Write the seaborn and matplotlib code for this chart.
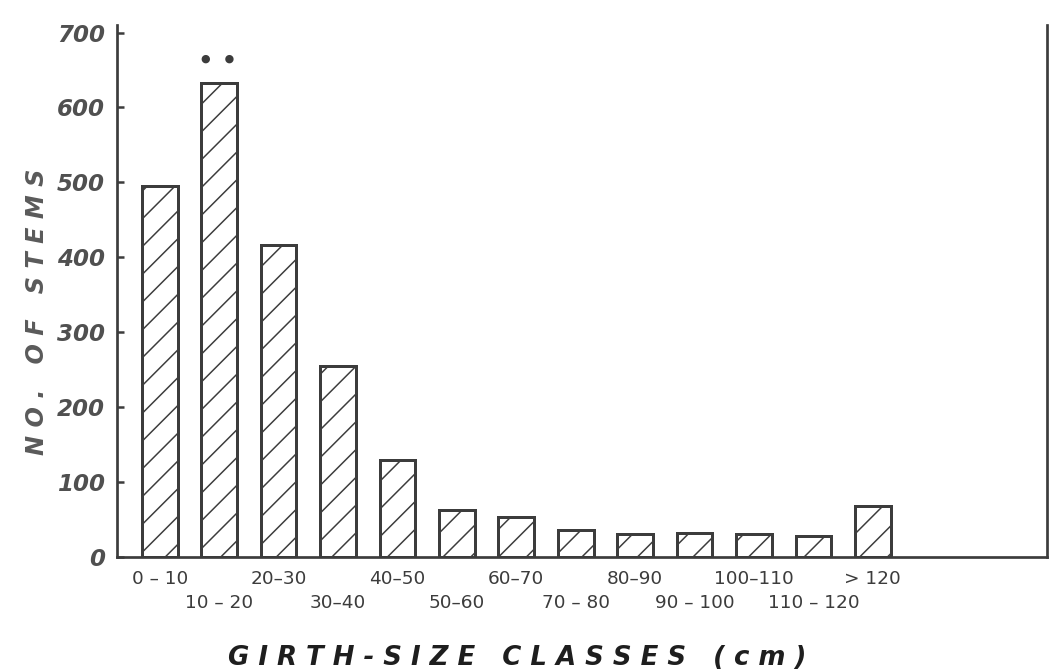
import seaborn as sns
import matplotlib.pyplot as plt

# girth-size classes and number of stems
classes = ["0 \u2013 10", "10 \u2013 20", "20\u201330", "30\u201340", "40\u201350", "50\u201360",
           "60\u201370", "70 \u2013 80", "80\u201390", "90 \u2013 100", "100\u2013110",
           "110 \u2013 120", "> 120"]
stems = [495, 632, 416, 255, 130, 63, 53, 36, 31, 32, 31, 28, 68]

DPI = 250
P = 72 / DPI  # points per pixel, so sizes below are given in pixels
ink = "#3c3c3c"

sns.set_style("white")
plt.rcParams["hatch.linewidth"] = 1.5 * P
plt.rcParams["hatch.color"] = ink
plt.rcParams["font.family"] = ["DejaVu Sans"]

# high dpi so the "///" hatch gets the wide spacing of the drawing
fig = plt.figure(figsize=(1057 / DPI, 671 / DPI), dpi=DPI)
ax = fig.add_axes([0.1107, 0.1699, 0.8798, 0.7928])

sns.barplot(x=classes, y=stems, color="white", saturation=1, width=0.6,
            edgecolor=ink, linewidth=3 * P, hatch="///", ax=ax)

# the two dots over the 10-20 bar
ax.annotate("\u25cf    \u25cf", xy=(1, stems[1]), xytext=(-2 * P, 20 * P), textcoords="offset points",
            ha="center", va="bottom", fontsize=11 * P, color=ink)

ax.set_ylim(0, 710)
ax.set_xlim(-0.72, 14.93)
ax.set_yticks(range(0, 701, 100))
ax.set_yticklabels([str(v) for v in range(0, 701, 100)], fontsize=23 * P,
                   fontstyle="italic", fontweight="bold", color="#505050")

# labels alternate between two rows: even ones on major ticks, odd ones on minor ticks
idx = list(range(len(classes)))
ax.set_xticks(idx[0::2], classes[0::2], fontsize=18.5 * P, color=ink)
ax.set_xticks(idx[1::2], classes[1::2], minor=True, fontsize=18.5 * P, color=ink)

ax.tick_params(axis="y", direction="in", length=7.5 * P, width=2.5 * P, color=ink, pad=12 * P, left=True)
ax.tick_params(axis="x", which="both", direction="in", length=6 * P, width=2.5 * P,
               color=ink, bottom=True)
ax.tick_params(axis="x", which="major", pad=13 * P)
ax.tick_params(axis="x", which="minor", pad=37 * P)

for side in ["left", "bottom", "right"]:
    ax.spines[side].set_color(ink)
    ax.spines[side].set_linewidth(2.7 * P)
ax.spines["top"].set_visible(False)

ax.set_ylabel("N O .   O F   S T E M S", fontsize=24 * P, fontstyle="italic",
              fontweight="bold", color="#5a5a5a")
ax.yaxis.set_label_coords(-0.073, 0.46)
ax.set_xlabel("G I R T H - S I Z E   C L A S S E S   ( c m )", fontsize=26 * P,
              fontstyle="italic", fontweight="bold", color="#1e1e1e")
ax.xaxis.set_label_coords(0.43, -0.165)

fig.savefig("out.png", dpi=DPI, facecolor="white")
